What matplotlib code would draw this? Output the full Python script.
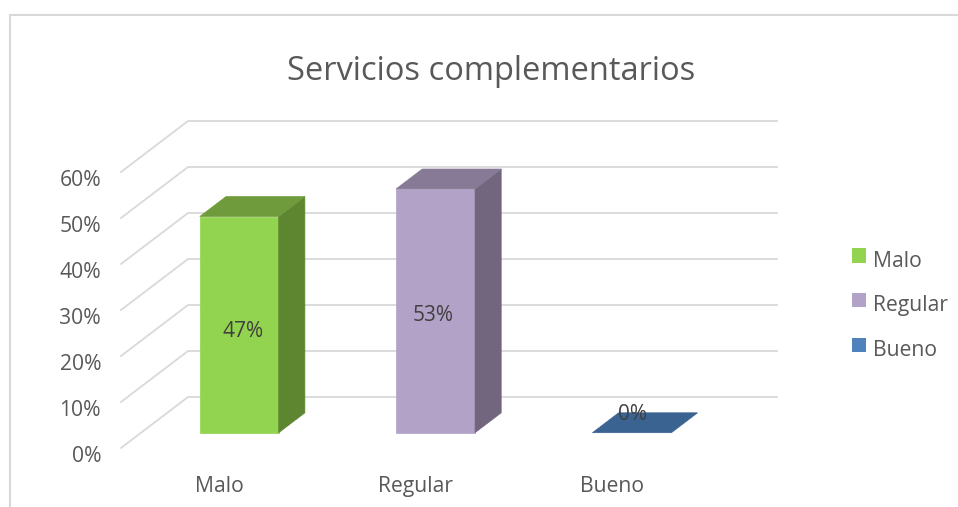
import matplotlib
matplotlib.use('Agg')
import matplotlib.pyplot as plt
from matplotlib.lines import Line2D
from matplotlib.patches import Patch
from matplotlib.transforms import ScaledTranslation

plt.rcParams['font.family'] = ['Open Sans', 'DejaVu Sans']

# Data
categories = ['Malo', 'Regular', 'Bueno']
values = [47, 53, 0]
value_labels = ['47%', '53%', '0%']
y_ticks = [0, 10, 20, 30, 40, 50, 60]
y_tick_labels = ['0%', '10%', '20%', '30%', '40%', '50%', '60%']

# Colours per series: front, top, side
front_colors = ['#92d34f', '#b3a2c7', '#4f81bd']
top_colors = ['#709b3c', '#877a96', '#3b6391']
side_colors = ['#5e8530', '#72667f', '#32547c']
grid_color = '#d9d9d9'
text_color = '#595959'

W, H = 958, 507
fig = plt.figure(figsize=(W / 100, H / 100), dpi=100)

# Front plane of the fake 3D box, in pixels of the figure
left, right, bottom, top = 121, 710, 448, 172
ax = fig.add_axes([left / W, 1 - bottom / H, (right - left) / W, (bottom - top) / H])
ax.set_xlim(-0.5, 2.5)
ax.set_ylim(0, 60)
ax.patch.set_visible(False)
for s in ax.spines.values():
    s.set_visible(False)

# Depth of the floor, turned into data units
depth_x = 67 / ((right - left) / 3)
depth_y = 51 / ((bottom - top) / 60)
bar_width = 0.402
bar_front = 0.3
bar_back = 0.69


def project(x, y, d):
    return x + d * depth_x, y + d * depth_y


# Gridlines: one diagonal and one line along the back wall
for t in y_ticks:
    x0, y0 = project(-0.5, t, 0)
    x1, y1 = project(-0.5, t, 1)
    x2, y2 = project(2.5, t, 1)
    ax.plot([x0, x1, x2], [y0, y1, y2], color=grid_color, lw=1.3, clip_on=False, zorder=1,
            solid_joinstyle='miter')

# Bars
label_offsets = [(3.5, -7), (-2.5, -4.5), (1, 18)]  # pixels
for i, v in enumerate(values):
    xl, xr = i - bar_width / 2, i + bar_width / 2
    a = project(xl, 0, bar_front)
    b = project(xr, 0, bar_front)
    c = project(xr, v, bar_front)
    d = project(xl, v, bar_front)
    e = project(xr, 0, bar_back)
    f = project(xr, v, bar_back)
    g = project(xl, v, bar_back)
    if v > 0:
        ax.fill(*zip(a, b, c, d), color=front_colors[i], lw=0.5, clip_on=False, zorder=3)
        ax.fill(*zip(b, e, f, c), color=side_colors[i], lw=0.5, clip_on=False, zorder=3)
    ax.fill(*zip(d, c, f, g), color=top_colors[i], lw=0.5, clip_on=False, zorder=3)

    cx, cy = project(i, v / 2, bar_front)
    ax.annotate(value_labels[i], (cx, cy), xytext=(label_offsets[i][0] * 0.72, label_offsets[i][1] * 0.72),
                textcoords='offset points', ha='center', va='center', fontsize=15,
                color='#404040', zorder=5, annotation_clip=False)

# Axis labels
ax.set_xticks(range(len(categories)))
ax.set_xticklabels(categories, fontsize=15.2, color=text_color)
ax.set_yticks(y_ticks)
ax.set_yticklabels(y_tick_labels, fontsize=15.2, color=text_color)
ax.tick_params(axis='both', length=0)
ax.tick_params(axis='x', pad=20)
ax.tick_params(axis='y', pad=14)
shift = ScaledTranslation(-0.5 / 100, -5.5 / 100, fig.dpi_scale_trans)
for lab in ax.get_yticklabels():
    lab.set_transform(lab.get_transform() + shift)

fig.text(491.5 / W, 1 - 71 / H, 'Servicios complementarios', fontsize=23.5, color=text_color,
         ha='center', va='center')

# Legend, swatches sit a little above the text
handles = [Patch(facecolor=c, edgecolor='none') for c in front_colors]
leg = fig.legend(handles, categories, loc='center left', bbox_to_anchor=(852 / W, 1 - 306 / H), frameon=False,
                 fontsize=15.2, labelcolor=text_color, handlelength=0.66, handleheight=0.66, handletextpad=0.33,
                 labelspacing=1.12, borderpad=0, borderaxespad=0)
for p in leg.get_patches():
    p.set_y(p.get_y() + 4 * 0.72)

# Frame of the chart: only top and left edges show
fig.add_artist(Line2D([10 / W, 10 / W, 1], [0, 1 - 15 / H, 1 - 15 / H], color=grid_color, lw=1.5,
                      solid_joinstyle='miter'))

fig.savefig('out.png', dpi=100)
